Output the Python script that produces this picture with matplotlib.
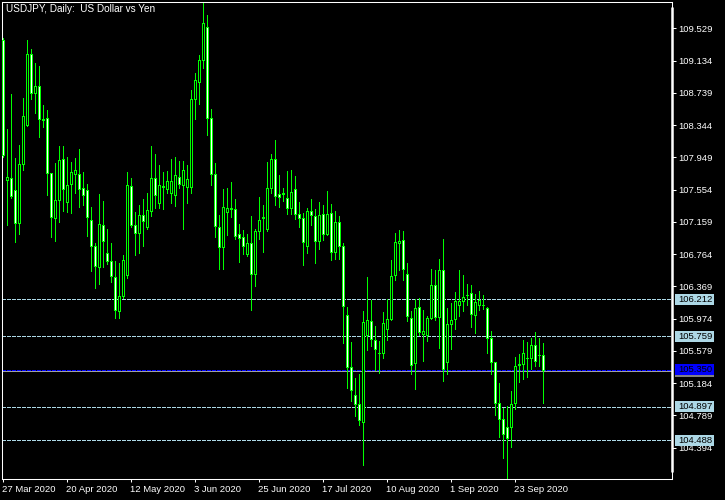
import matplotlib
matplotlib.use("Agg")
import matplotlib.pyplot as plt
from matplotlib.patches import Rectangle
import pandas as pd
import numpy as np

# ---------------- data ----------------
start_date = "2020-03-27"
opens = [109.386, 107.672, 107.692, 107.545, 107.149, 107.864, 108.349, 109.211, 108.740, 108.819,
         108.418, 108.427, 107.754, 107.203, 107.423, 107.925, 107.399, 107.619, 107.741, 107.741,
         107.570, 107.545, 107.178, 106.860, 106.603, 107.117, 106.774, 106.676, 106.480, 106.064,
         106.247, 106.505, 107.594, 107.117, 107.019, 107.239, 107.092, 107.288, 107.692, 107.386,
         107.586, 107.558, 107.509, 107.484, 107.705, 107.607, 107.582, 107.582, 108.660, 108.868,
         109.137, 109.541, 108.427, 107.741, 107.092, 106.855, 107.283, 107.320, 107.313, 107.007,
         106.970, 106.769, 106.904, 106.517, 107.043, 107.219, 107.068, 107.570, 107.925, 107.496,
         107.504, 107.447, 107.325, 107.558, 107.252, 107.203, 106.867, 107.288, 107.227, 106.928,
         107.252, 107.014, 107.264, 106.794, 107.154, 106.860, 106.015, 105.378, 105.035, 104.925,
         104.705, 105.770, 105.941, 105.709, 105.550, 105.550, 105.843, 105.966, 106.505, 106.904,
         106.933, 106.517, 105.978, 105.427, 106.113, 105.782, 105.770, 105.978, 106.382, 105.990,
         106.566, 105.440, 105.905, 105.966, 106.137, 106.186, 106.263, 106.284, 106.015, 106.137,
         106.141, 106.101, 105.733, 105.440, 104.945, 104.742, 104.644, 104.644, 104.937, 105.403,
         105.415, 105.488, 105.488, 105.648, 105.525, 105.525]
highs = [109.410, 108.296, 108.725, 107.941, 108.100, 108.676, 109.386, 109.276, 109.108, 109.067,
         108.590, 108.529, 107.761, 107.880, 108.088, 108.088, 107.953, 107.892, 107.941, 108.051,
         107.766, 107.619, 107.341, 106.897, 107.504, 107.411, 107.068, 106.897, 106.676, 106.652,
         106.750, 107.766, 107.692, 107.276, 107.362, 107.435, 107.509, 108.088, 107.986, 107.852,
         107.766, 107.778, 107.925, 107.949, 107.900, 107.900, 107.852, 108.770, 108.978, 109.198,
         109.839, 109.692, 108.537, 107.876, 107.239, 107.558, 107.570, 107.643, 107.443, 107.129,
         107.056, 107.007, 107.227, 107.068, 107.460, 107.362, 107.888, 107.986, 108.158, 107.729,
         107.570, 107.778, 107.790, 107.717, 107.399, 107.264, 107.325, 107.435, 107.313, 107.399,
         107.362, 107.533, 107.374, 107.288, 107.227, 106.897, 106.113, 105.684, 105.243, 105.296,
         106.064, 106.480, 106.206, 105.880, 105.697, 106.052, 106.211, 106.688, 107.023, 107.056,
         107.043, 106.652, 106.064, 106.211, 106.223, 106.076, 106.003, 106.578, 106.566, 106.701,
         106.945, 106.101, 106.162, 106.297, 106.566, 106.505, 106.394, 106.382, 106.272, 106.309,
         106.260, 106.113, 105.819, 105.440, 105.186, 104.876, 104.901, 105.084, 105.501, 105.541,
         105.712, 105.688, 105.737, 105.811, 105.737, 105.672]
lows = [107.953, 107.121, 107.455, 106.916, 107.014, 107.798, 108.336, 108.663, 108.492, 108.202,
        108.324, 107.492, 106.977, 106.928, 107.161, 107.296, 107.280, 107.271, 107.516, 107.345,
        107.362, 106.990, 106.561, 106.353, 106.402, 106.603, 106.639, 106.419, 105.986, 105.986,
        106.223, 106.468, 107.100, 106.750, 106.774, 106.860, 107.068, 107.227, 107.332, 107.325,
        107.320, 107.509, 107.394, 107.357, 107.570, 107.075, 107.386, 107.509, 108.422, 108.606,
        109.039, 108.226, 107.614, 106.977, 106.578, 106.585, 106.994, 107.215, 106.945, 106.671,
        106.762, 106.745, 106.080, 106.377, 106.953, 106.794, 107.043, 107.509, 107.362, 107.337,
        107.411, 107.252, 107.252, 107.190, 107.092, 106.634, 106.781, 107.117, 106.659, 106.830,
        106.941, 107.002, 106.688, 106.708, 106.708, 105.679, 105.121, 104.962, 104.778, 104.675,
        104.186, 105.586, 105.635, 105.342, 105.305, 105.488, 105.709, 105.954, 106.443, 106.566,
        106.443, 105.941, 105.293, 105.109, 105.770, 105.452, 105.697, 105.966, 105.954, 105.611,
        105.207, 105.293, 105.599, 105.851, 106.003, 106.064, 106.137, 105.868, 105.794, 106.076,
        106.089, 105.550, 105.300, 104.798, 104.528, 104.271, 103.950, 104.406, 104.864, 105.202,
        105.239, 105.263, 105.361, 105.398, 105.398, 104.945]
closes = [107.978, 107.708, 107.479, 107.149, 107.864, 108.452, 109.211, 108.733, 108.819, 108.415,
          108.412, 107.754, 107.215, 107.423, 107.913, 107.558, 107.607, 107.766, 107.790, 107.558,
          107.484, 107.215, 106.860, 106.615, 107.129, 106.921, 106.676, 106.492, 106.076, 106.247,
          106.688, 107.607, 107.117, 107.019, 107.239, 107.166, 107.300, 107.692, 107.484, 107.607,
          107.604, 107.656, 107.656, 107.729, 107.619, 107.790, 107.680, 108.660, 108.892, 109.137,
          109.590, 108.427, 107.741, 107.112, 106.855, 107.345, 107.325, 107.323, 106.990, 106.965,
          106.867, 106.897, 106.517, 107.043, 107.178, 107.212, 107.570, 107.925, 107.472, 107.460,
          107.507, 107.325, 107.521, 107.252, 107.203, 106.916, 107.288, 107.239, 106.928, 107.239,
          107.014, 107.252, 106.794, 107.154, 106.860, 106.125, 105.378, 105.097, 104.925, 104.729,
          105.929, 105.954, 105.721, 105.599, 105.553, 105.917, 105.966, 106.492, 106.909, 106.921,
          106.578, 106.003, 105.403, 106.101, 105.807, 105.819, 105.978, 106.382, 105.990, 106.566,
          105.354, 105.905, 105.954, 106.186, 106.186, 106.235, 106.260, 106.027, 106.174, 106.199,
          106.137, 105.733, 105.440, 104.945, 104.742, 104.565, 104.509, 104.925, 105.391, 105.415,
          105.550, 105.492, 105.648, 105.452, 105.529, 105.350]

price_ticks = [109.529, 109.134, 108.739, 108.344, 107.949, 107.554, 107.159,
               106.764, 106.369, 105.974, 105.579, 105.184, 104.789, 104.394]
date_labels = ["27 Mar 2020", "20 Apr 2020", "12 May 2020", "3 Jun 2020", "25 Jun 2020",
               "17 Jul 2020", "10 Aug 2020", "1 Sep 2020", "23 Sep 2020"]
hlines_levels = [106.212, 105.759, 104.897, 104.488]
bid_price = 105.329
line_price = 105.350
title = "USDJPY, Daily:  US Dollar vs Yen"

# ---------------- figure ----------------
W, H = 725, 500
fig = plt.figure(figsize=(W / 100, H / 100), dpi=100, facecolor="black")
ax = fig.add_axes([2 / W, 21 / H, 670 / W, 477 / H])
ax.set_facecolor("black")

dates = pd.bdate_range(start_date, periods=len(opens))
x = np.arange(len(opens))
o = np.array(opens); h = np.array(highs); l = np.array(lows); c = np.array(closes)

YMIN, YMAX = 104.0106, 109.851
ax.set_xlim(-0.125, -0.125 + 670 / 4.0)
ax.set_ylim(YMIN, YMAX)
px = (YMAX - YMIN) / 477.0   # one pixel in price units
hw = 0.25                    # one pixel in bar units

GREEN = "#00FF00"
LW = 0.72
lo_b = np.minimum(o, c)
hi_b = np.maximum(o, c)
fills = np.where(c >= o, "black", "white")

# wicks
ax.vlines(x, l, h, color=GREEN, linewidth=LW, zorder=2, antialiased=False)
# body interiors
ax.vlines(x, lo_b, hi_b, colors=list(fills), linewidth=LW, zorder=3, antialiased=False)
# body outlines
ax.vlines(x - hw, lo_b, hi_b, color=GREEN, linewidth=LW, zorder=4, antialiased=False)
ax.vlines(x + hw, lo_b, hi_b, color=GREEN, linewidth=LW, zorder=4, antialiased=False)
ax.hlines(lo_b, x - hw, x + hw, color=GREEN, linewidth=LW, zorder=4, antialiased=False)
ax.hlines(hi_b, x - hw, x + hw, color=GREEN, linewidth=LW, zorder=4, antialiased=False)

LB = "#ADD8E6"
for lv in hlines_levels:
    ax.axhline(lv, color=LB, linewidth=LW, linestyle=(0, (3, 2)), zorder=1, antialiased=False)
ax.axhline(bid_price, color="#A0A0A0", linewidth=LW, zorder=1, antialiased=False)
ax.axhline(line_price, color="#0000FF", linewidth=LW, linestyle=(0, (3, 2)), zorder=1,
           antialiased=False)

# axes / spines
for s in ax.spines.values():
    s.set_color("white")
    s.set_linewidth(0.75)
ax.plot([1, 1], [7 / 477, 472 / 477], transform=ax.transAxes, color="white",
        linewidth=1.8, clip_on=False, zorder=5, solid_capstyle="butt")

FONT = "Liberation Sans"
ax.yaxis.tick_right()
ax.set_yticks(price_ticks)
ax.set_yticklabels([f"{v:.3f}" for v in price_ticks], fontfamily=FONT)
ax.tick_params(axis="y", colors="white", length=3.0, width=0.75, pad=1.2, labelsize=6.8)

pos = [dates.get_loc(pd.Timestamp(pd.to_datetime(d, format="%d %b %Y"))) for d in date_labels]
ax.set_xticks(pos)
ax.set_xticklabels(date_labels, fontfamily=FONT, ha="left")
ax.tick_params(axis="x", colors="white", length=2.5, width=0.75, pad=1.5, labelsize=6.8)
for lab in ax.get_xticklabels():
    lab.set_horizontalalignment("left")

# price labels on the right axis
ytr = ax.get_yaxis_transform()
box_h = 11 * px
box_x0 = 3 / 670
box_w = 39 / 670

def price_box(level, face, text=None, tcolor="black"):
    ax.add_patch(Rectangle((1 + box_x0, level - box_h / 2), box_w, box_h, transform=ytr,
                           facecolor=face, edgecolor="none", clip_on=False, zorder=6))
    if text is not None:
        ax.text(1 + 6 / 670, level, text, transform=ytr, va="center", ha="left",
                color=tcolor, fontsize=6.8, fontfamily=FONT, zorder=7, clip_on=False)

for lv in hlines_levels:
    price_box(lv, LB, f"{lv:.3f}")
price_box(bid_price, "#808080")
price_box(line_price, "#0000FF", f"{line_price:.3f}", "black")

fig.text(6 / W, 1 - 4 / H, title, color="white", fontsize=7.2, fontfamily=FONT,
         va="top", ha="left")

fig.savefig("out.png", dpi=100, facecolor="black")
